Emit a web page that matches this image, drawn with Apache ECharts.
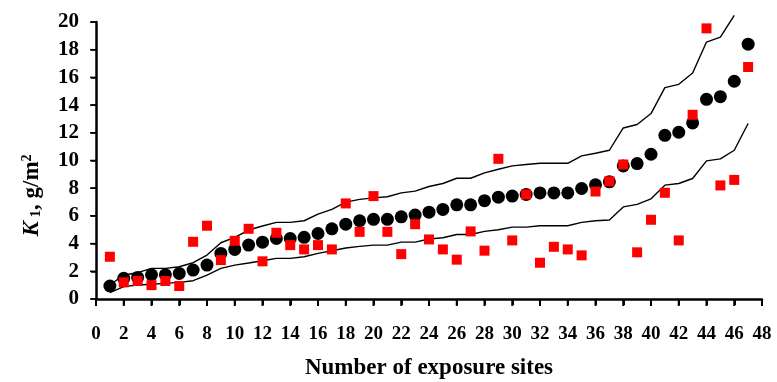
<!DOCTYPE html>
<html><head><meta charset="utf-8">
<script src="https://cdn.jsdelivr.net/npm/echarts@6/dist/echarts.min.js"></script>
<style>html,body{margin:0;padding:0;background:#fff}#c{width:777px;height:382px}</style>
</head><body><div id="c"></div>
<script>
var sites = [1,2,3,4,5,6,7,8,9,10,11,12,13,14,15,16,17,18,19,20,21,22,23,24,25,26,27,28,29,30,31,32,33,34,35,36,37,38,39,40,41,42,43,44,45,46,47];
var meanK = [0.94,1.49,1.56,1.75,1.75,1.85,2.09,2.45,3.29,3.58,3.89,4.1,4.37,4.37,4.45,4.73,5.07,5.4,5.65,5.75,5.75,5.93,6.06,6.27,6.47,6.8,6.8,7.1,7.35,7.43,7.55,7.66,7.66,7.66,7.98,8.25,8.46,9.61,9.78,10.45,11.82,12.04,12.71,14.42,14.61,15.72,18.4];
var observedK = [3.05,1.2,1.3,1.0,1.3,0.94,4.13,5.29,2.81,4.2,5.07,2.72,4.78,3.89,3.58,3.89,3.58,6.9,4.85,7.43,4.85,3.24,5.4,4.3,3.58,2.84,4.88,3.49,10.12,4.23,7.55,2.62,3.77,3.58,3.15,7.76,8.5,9.71,3.37,5.72,7.67,4.23,13.3,19.54,8.2,8.6,16.75];
var upperK = [1.01,1.73,1.9,2.21,2.21,2.33,2.62,3.17,4.06,4.45,4.98,5.27,5.53,5.53,5.65,6.13,6.47,6.99,7.19,7.3,7.38,7.66,7.79,8.12,8.34,8.72,8.72,9.11,9.37,9.61,9.71,9.8,9.8,9.8,10.33,10.52,10.74,12.35,12.6,13.39,15.26,15.5,16.32,18.55,18.91,20.48,null];
var lowerK = [0.46,0.89,1.01,1.06,1.13,1.2,1.32,1.73,2.21,2.45,2.6,2.76,2.93,2.93,3.05,3.29,3.48,3.68,3.8,3.89,3.89,4.11,4.11,4.33,4.42,4.66,4.66,4.88,5.0,5.19,5.19,5.29,5.29,5.29,5.53,5.65,5.7,6.65,6.83,7.23,8.22,8.34,8.7,9.97,10.12,10.74,12.67];
var xTicks = [0,2,4,6,8,10,12,14,16,18,20,22,24,26,28,30,32,34,36,38,40,42,44,46,48];
var yTicks = [0,2,4,6,8,10,12,14,16,18,20];

function pairs(v){ var out=[]; for (var i=0;i<sites.length;i++){ if (v[i]!=null) out.push([sites[i], v[i]]); } return out; }

var font = 'Liberation Serif';
var chart = echarts.init(document.getElementById('c'));
chart.setOption({
  animation:false,
  grid:{left:96, right:15, top:22, bottom:83, containLabel:false, outerBoundsMode:'none'},
  xAxis:{
    type:'value', min:0, max:48, interval:2,
    name:'Number of exposure sites', nameLocation:'middle', nameGap:58,
    nameTextStyle:{fontFamily:font, fontWeight:'bold', fontSize:23, color:'#000'},
    axisLine:{show:true, lineStyle:{color:'#000', width:2.5}},
    axisTick:{show:true, length:6, lineStyle:{color:'#000', width:2}},
    axisLabel:{fontFamily:font, fontWeight:'bold', fontSize:19, color:'#000', margin:26},
    splitLine:{show:false}
  },
  yAxis:{
    type:'value', min:0, max:20, interval:2,
    name:'{k|K}{s| 1}{n|, g/m}{p|2}', nameLocation:'middle', nameGap:52, nameRotate:90,
    nameTextStyle:{
      padding:[0,70,0,0],
      rich:{
        k:{fontFamily:font, fontWeight:'bold', fontStyle:'italic', fontSize:23, color:'#000'},
        s:{fontFamily:font, fontWeight:'bold', fontSize:15, color:'#000', verticalAlign:'bottom', padding:[8,0,0,0]},
        n:{fontFamily:font, fontWeight:'bold', fontSize:23, color:'#000'},
        p:{fontFamily:font, fontWeight:'bold', fontSize:14, color:'#000', verticalAlign:'top', padding:[0,0,10,0]}
      }
    },
    axisLine:{show:true, lineStyle:{color:'#000', width:2.5}},
    axisTick:{show:true, length:5, lineStyle:{color:'#000', width:1.5}},
    axisLabel:{fontFamily:font, fontWeight:'bold', fontSize:21, color:'#000', margin:17},
    splitLine:{show:false}
  },
  series:[
    {type:'custom', silent:true, clip:false, z:1, data:xTicks.map(function(v){return [v];}),
     renderItem:function(params, api){
       var p = api.coord([api.value(0), 0]);
       return {type:'line', shape:{x1:p[0], y1:p[1], x2:p[0], y2:p[1]+7}, style:{stroke:'#000', lineWidth:2}};
     }},
    {type:'custom', silent:true, clip:false, z:1, data:yTicks.map(function(v){return [v];}),
     renderItem:function(params, api){
       var p = api.coord([0, api.value(0)]);
       return {type:'line', shape:{x1:p[0]-6, y1:p[1], x2:p[0], y2:p[1]}, style:{stroke:'#000', lineWidth:1.5}};
     }},
    {type:'line', data:pairs(upperK), symbol:'none', clip:false, lineStyle:{color:'#000', width:1.4}, z:2},
    {type:'line', data:pairs(lowerK), symbol:'none', clip:false, lineStyle:{color:'#000', width:1.4}, z:2},
    {type:'scatter', data:pairs(meanK), symbol:'circle', symbolSize:13, itemStyle:{color:'#000', opacity:1}, z:3},
    {type:'scatter', data:pairs(observedK), symbol:'rect', symbolSize:10, itemStyle:{color:'#ff0000', opacity:1}, z:4}
  ]
});
</script>
</body></html>
